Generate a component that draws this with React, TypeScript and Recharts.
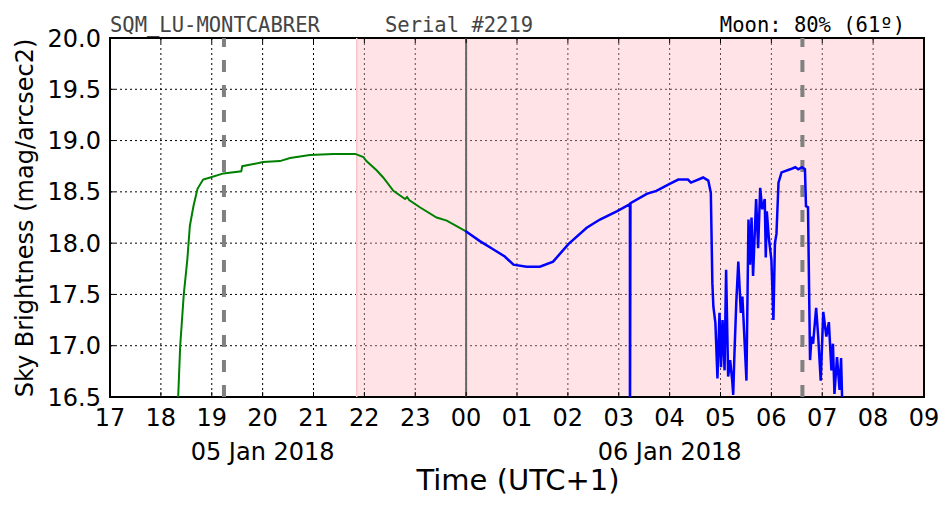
import {
  ComposedChart,
  Line,
  XAxis,
  YAxis,
  CartesianGrid,
  ReferenceArea,
  ReferenceLine,
} from 'recharts'

// hours since 00:00 of 05 Jan 2018 (24 = midnight, 33 = 09:00 on 06 Jan)
const duskHours = [
  18.3, 18.34, 18.38, 18.45, 18.52, 18.57, 18.64, 18.72, 18.83, 18.97, 19.23, 19.58, 19.6,
  20.01, 20.34, 20.54, 20.93, 21.39, 21.82, 21.98, 22.04, 22.24, 22.37, 22.57, 22.8, 22.84,
  22.88, 23.09, 23.42, 23.62, 23.98,
]
const duskMag = [
  16.2, 16.5, 17.0, 17.5, 17.84, 18.17, 18.36, 18.53, 18.62, 18.64, 18.68, 18.7, 18.75,
  18.79, 18.8, 18.83, 18.86, 18.87, 18.87, 18.84, 18.8, 18.71, 18.64, 18.51, 18.43, 18.45,
  18.42, 18.35, 18.25, 18.22, 18.12,
]

const nightHours = [
  23.98, 24.27, 24.53, 24.76, 24.93, 25.19, 25.45, 25.71, 26.01, 26.37, 26.63, 26.96, 27.22,
  27.22, 27.23, 27.55, 27.74, 28.01, 28.17, 28.36, 28.42, 28.66, 28.76, 28.81, 28.84, 28.86,
  28.9, 28.94, 28.98, 29.01, 29.04, 29.08, 29.11, 29.15, 29.19, 29.23, 29.25, 29.27, 29.31,
  29.35, 29.4, 29.43, 29.45, 29.51, 29.55, 29.58, 29.61, 29.64, 29.7, 29.74, 29.78, 29.82,
  29.87, 29.89, 29.91, 29.95, 30.0, 30.04, 30.07, 30.1, 30.14, 30.2, 30.37, 30.47, 30.53,
  30.6, 30.66, 30.68, 30.72, 30.76, 30.79, 30.82, 30.88, 30.92, 30.97, 31.02, 31.08, 31.13,
  31.18, 31.21, 31.24, 31.29, 31.34, 31.37, 31.4,
]
const nightMag = [
  18.12, 18.02, 17.94, 17.87, 17.79, 17.77, 17.77, 17.82, 17.99, 18.15, 18.23, 18.31, 18.38,
  16.0, 18.39, 18.48, 18.51, 18.58, 18.62, 18.62, 18.59, 18.64, 18.61, 18.49, 17.61, 17.38,
  17.22, 16.68, 17.32, 16.79, 17.25, 16.76, 17.74, 16.7, 16.86, 16.66, 16.52, 16.86, 17.42,
  17.82, 17.32, 17.48, 17.28, 16.66, 18.23, 17.79, 18.25, 17.68, 18.43, 17.95, 18.54, 18.33,
  18.43, 17.86, 18.31, 18.05, 17.84, 17.25, 18.0, 18.09, 18.59, 18.69, 18.72, 18.74, 18.72,
  18.74, 18.72, 18.36, 18.35, 16.86, 17.09, 17.02, 17.37, 17.09, 16.66, 17.33, 17.09, 17.23,
  16.76, 17.02, 16.53, 16.89, 16.57, 16.88, 16.3,
]

const xTicks = [17, 18, 19, 20, 21, 22, 23, 24, 25, 26, 27, 28, 29, 30, 31, 32, 33]
const yTicks = [16.5, 17.0, 17.5, 18.0, 18.5, 19.0, 19.5, 20.0]
const dateLabels: Record<number, string> = { 20: '05 Jan 2018', 28: '06 Jan 2018' }

const twilightStart = 21.85
const midnight = 24
const moonMarks = [19.24, 30.61]

const duskData = duskHours.map((h, i) => ({ h, mag: duskMag[i] }))
const nightData = nightHours.map((h, i) => ({ h, mag: nightMag[i] }))

const W = 952
const H = 512
const M = { top: 38, right: 28, left: 0, bottom: 0 }
const Y_AXIS_W = 110
const X_AXIS_H = 115
const PLOT_H = H - M.top - X_AXIS_H
const PLOT_W = W - Y_AXIS_W - M.right

const sans = '"DejaVu Sans", sans-serif'
const mono = '"DejaVu Sans Mono", monospace'

const pad = (h: number) => String(h % 24).padStart(2, '0')

const XTick = ({ x, y, payload }: any) => (
  <g>
    <line x1={x} x2={x} y1={y} y2={y - 5} stroke="#000" strokeWidth={1} />
    <line x1={x} x2={x} y1={y - PLOT_H} y2={y - PLOT_H + 5} stroke="#000" strokeWidth={1} />
    <text x={x} y={y + 29} textAnchor="middle" fontSize={24} fontFamily={sans} fill="#000">
      {pad(payload.value)}
    </text>
    {dateLabels[payload.value] && (
      <text x={x} y={y + 63} textAnchor="middle" fontSize={24} fontFamily={sans} fill="#000">
        {dateLabels[payload.value]}
      </text>
    )}
  </g>
)

const YTick = ({ x, y, payload }: any) => (
  <g>
    <line x1={x} x2={x + 5} y1={y} y2={y} stroke="#000" strokeWidth={1} />
    <line x1={x + PLOT_W} x2={x + PLOT_W - 5} y1={y} y2={y} stroke="#000" strokeWidth={1} />
    <text x={x - 9} y={y} dy="0.36em" textAnchor="end" fontSize={24} fontFamily={sans} fill="#000">
      {payload.value.toFixed(1)}
    </text>
  </g>
)

export default function App() {
  return (
    <div style={{ position: 'absolute', left: 0, top: 0, width: W, height: H, background: '#fff' }}>
      <ComposedChart width={W} height={H} margin={M}>
        <ReferenceArea
          x1={twilightStart}
          x2={33}
          y1={16.5}
          y2={20}
          fill="#ffb6c1"
          fillOpacity={0.38}
          stroke="none"
          ifOverflow="hidden"
        />
        <CartesianGrid stroke="#000" strokeDasharray="2 3" strokeWidth={1} />
        <XAxis
          dataKey="h"
          type="number"
          domain={[17, 33]}
          ticks={xTicks}
          height={X_AXIS_H}
          tickLine={false}
          axisLine={false}
          tickSize={0}
          tickMargin={0}
          tick={<XTick />}
          interval={0}
          allowDataOverflow
        />
        <YAxis
          type="number"
          domain={[16.5, 20]}
          ticks={yTicks}
          width={Y_AXIS_W}
          tickLine={false}
          axisLine={false}
          tickSize={0}
          tickMargin={0}
          tick={<YTick />}
          interval={0}
          allowDataOverflow
        />
        <ReferenceLine x={twilightStart} stroke="#f7c4c9" strokeWidth={1.5} />
        <ReferenceLine x={midnight} stroke="#666" strokeWidth={2} />
        {moonMarks.map((m) => (
          <ReferenceLine key={m} x={m} stroke="#808080" strokeWidth={4} strokeDasharray="12 13" />
        ))}
        <Line
          data={duskData}
          dataKey="mag"
          type="linear"
          stroke="#008000"
          strokeWidth={2}
          dot={false}
          activeDot={false}
          isAnimationActive={false}
        />
        <Line
          data={nightData}
          dataKey="mag"
          type="linear"
          stroke="#0000ff"
          strokeWidth={2.5}
          dot={false}
          activeDot={false}
          isAnimationActive={false}
        />
        <ReferenceArea x1={17} x2={33} y1={16.5} y2={20} fill="none" stroke="#000" strokeWidth={2} />
      </ComposedChart>

      <svg width={W} height={H} style={{ position: 'absolute', left: 0, top: 0, pointerEvents: 'none' }}>
        <text x={110} y={32} fontSize={20.5} fontFamily={mono} fill="#444">
          SQM_LU-MONTCABRER
        </text>
        <text x={385} y={32} fontSize={20.5} fontFamily={mono} fill="#444">
          Serial #2219
        </text>
        <text x={905} y={32} textAnchor="end" fontSize={20.5} fontFamily={mono} fill="#000">
          Moon: 80% (61º)
        </text>
        <text
          x={33}
          y={218}
          transform="rotate(-90 33 218)"
          textAnchor="middle"
          fontSize={24}
          fontFamily={sans}
          fill="#000"
        >
          Sky Brightness (mag/arcsec2)
        </text>
        <text x={518} y={490} textAnchor="middle" fontSize={29} fontFamily={sans} fill="#000">
          Time (UTC+1)
        </text>
      </svg>
    </div>
  )
}
